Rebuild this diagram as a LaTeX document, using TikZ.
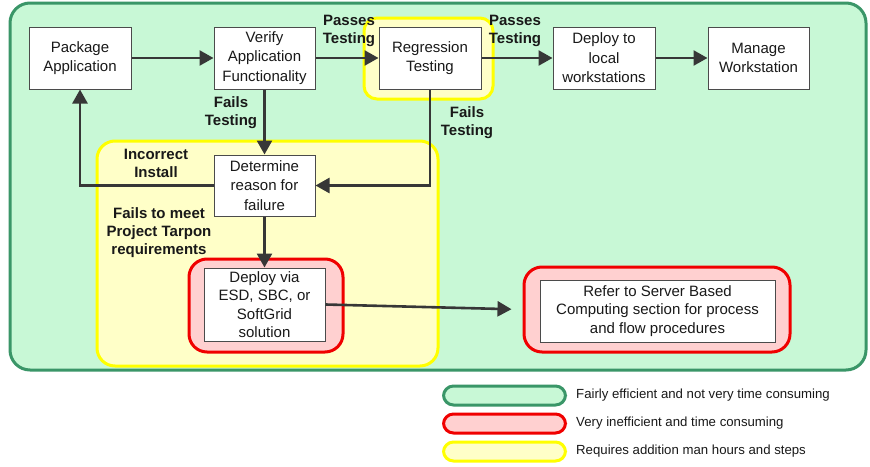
\documentclass[tikz,border=0pt]{standalone}
\usepackage{fontspec}
\setmainfont{Liberation Sans}
\usetikzlibrary{arrows.meta}
\definecolor{gfill}{RGB}{200,248,214}
\definecolor{gline}{RGB}{58,150,104}
\definecolor{yfill}{RGB}{255,255,200}
\definecolor{yline}{RGB}{255,255,0}
\definecolor{rfill}{RGB}{255,208,208}
\definecolor{rline}{RGB}{240,0,0}
\definecolor{arr}{RGB}{55,55,55}
\definecolor{txt}{RGB}{25,25,25}
\tikzset{
  proc/.style={draw=arr!90, line width=1pt, fill=white, align=center, text=txt,
    font=\fontsize{15}{19.5}\selectfont, inner sep=0pt},
  lbl/.style={align=center, text=txt, font=\fontsize{15}{18}\selectfont\bfseries, inner sep=0pt},
  flow/.style={draw=arr, line width=2.6pt, -{Triangle[length=14pt,width=15pt]}},
  greenzone/.style={draw=gline, line width=3pt, fill=gfill, rounded corners=20pt},
  yellowzone/.style={draw=yline, line width=3pt, fill=yfill, rounded corners=18pt},
  redzone/.style={draw=rline, line width=3pt, fill=rfill, rounded corners=18pt},
  pill/.style={line width=3pt, rounded corners=10pt, minimum width=122pt, minimum height=19pt, inner sep=0pt},
  legtxt/.style={anchor=west, text=txt, font=\fontsize{13.2}{15}\selectfont, inner sep=0pt}
}
\begin{document}
\begin{tikzpicture}[x=1pt,y=-1pt]
\useasboundingbox (0,0) rectangle (870,466);
\fill[white] (0,0) rectangle (870,466);
% zones
\node[greenzone, minimum width=856pt, minimum height=367pt, inner sep=0pt] (gz) at (438,186.5) {};
\node[yellowzone, minimum width=341pt, minimum height=225pt, inner sep=0pt] (yz) at (267.5,253.5) {};
\node[yellowzone, rounded corners=13pt, minimum width=129pt, minimum height=81pt, inner sep=0pt] (yreg) at (428.5,58.5) {};
\node[redzone, minimum width=154pt, minimum height=93pt, inner sep=0pt] (rdv) at (266,305.5) {};
\node[redzone, minimum width=266pt, minimum height=85pt, inner sep=0pt] (rref) at (657,309.5) {};
% boxes
\node[proc, minimum width=102pt, minimum height=62pt] (pkg) at (80,58) {Package\\Application};
\node[proc, minimum width=101pt, minimum height=62pt] (ver) at (264.5,58) {Verify\\Application\\Functionality};
\node[proc, minimum width=102pt, minimum height=62pt] (reg) at (430,58) {Regression\\Testing};
\node[proc, minimum width=102pt, minimum height=62pt] (dep) at (604,58) {Deploy to\\local\\workstations};
\node[proc, minimum width=101pt, minimum height=62pt] (man) at (758.5,58) {Manage\\Workstation};
\node[proc, minimum width=101pt, minimum height=61pt] (det) at (264.5,185.5) {Determine\\reason for\\failure};
\node[proc, minimum width=121pt, minimum height=73pt, font=\fontsize{15}{18.5}\selectfont] (dv) at (264.5,304.5) {Deploy via\\ESD, SBC, or\\SoftGrid\\solution};
\node[proc, minimum width=235pt, minimum height=62pt, font=\fontsize{15}{18.5}\selectfont] (ref) at (657.5,311) {Refer to Server Based\\Computing section for process\\and flow procedures};
% connectors
\draw[flow] (pkg) -- (ver);
\draw[flow] (ver) -- (reg);
\draw[flow] (reg) -- (dep);
\draw[flow] (dep) -- (man);
\draw[flow] (ver) -- (det);
\draw[flow] (reg.south) |- (det.east);
\draw[flow] (det.west) -| (pkg.south);
\draw[flow] (det) -- (dv);
\draw[flow, shorten >=11pt] (dv.east) -- (rref.west);
% labels
\node[lbl] (l1) at (349,31) {Passes\\Testing};
\node[lbl] (l2) at (515,31) {Passes\\Testing};
\node[lbl] (l3) at (231,113) {Fails\\Testing};
\node[lbl] (l4) at (467,123) {Fails\\Testing};
\node[lbl] (l5) at (156,163.5) {Incorrect\\Install};
\node[lbl] (l6) at (159,233) {Fails to meet\\Project Tarpon\\requirements};
% legend
\node[pill, draw=gline, fill=gfill] (lg) at (504.5,395.5) {};
\node[pill, draw=rline, fill=rfill] (lr) at (504.5,423.5) {};
\node[pill, draw=yline, fill=yfill] (ly) at (504.5,451.5) {};
\node[legtxt] (tg) at (576,395) {Fairly efficient and not very time consuming};
\node[legtxt] (tr) at (576,423) {Very inefficient and time consuming};
\node[legtxt] (ty) at (576,451) {Requires addition man hours and steps};
\end{tikzpicture}
\end{document}
